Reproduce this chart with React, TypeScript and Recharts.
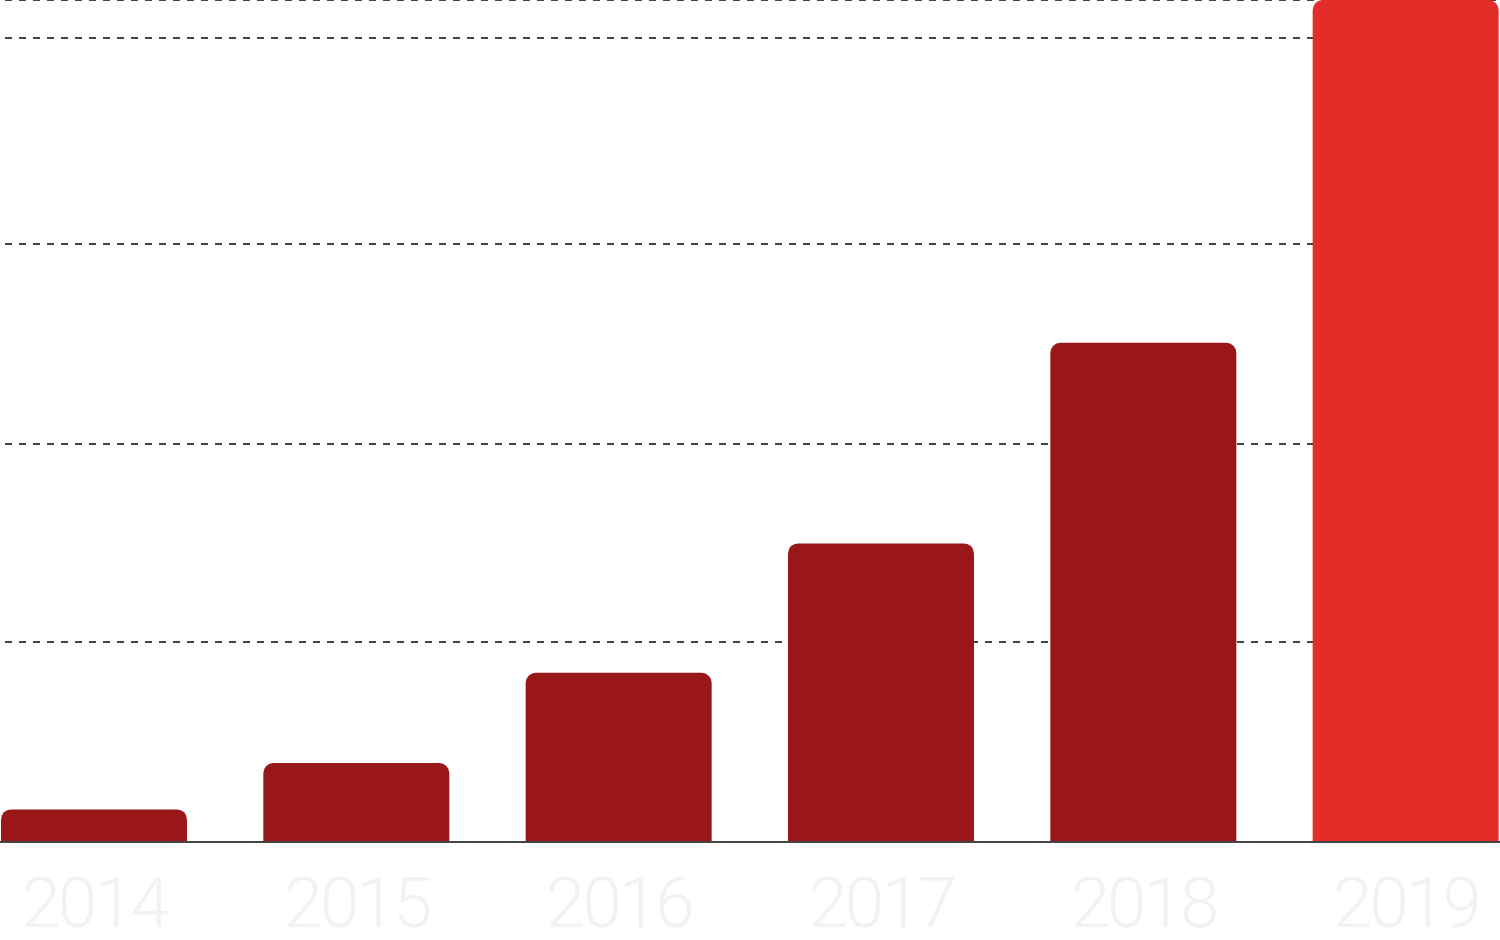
import React from "react";
import { BarChart, Bar, XAxis, YAxis, CartesianGrid, Cell } from "recharts";

const years = ["2014", "2015", "2016", "2017", "2018", "2019"];
const values = [16.3, 39.5, 84.6, 149.3, 249.6, 421];
const barColors = ["#9A1719", "#9A1719", "#9A1719", "#9A1719", "#9A1719", "#E32D28"];
const gridTicks = [0, 100, 199, 299, 402];

const data = years.map((y, i) => ({ year: y, value: values[i] }));

const YearTick = (props: any) => {
  const { x, y, payload } = props;
  return (
    <text
      x={x}
      y={y + 85}
      textAnchor="middle"
      fill="#F2F2F2"
      fontFamily="Roboto, 'Open Sans', sans-serif"
      fontWeight={300}
      fontSize={71}
      letterSpacing={-3}
    >
      {payload.value}
    </text>
  );
};

export default function App() {
  return (
    <div
      style={{
        position: "absolute",
        left: 0,
        top: 0,
        width: 1500,
        height: 940,
        overflow: "hidden",
        background: "#FFFFFF",
      }}
    >
      <div style={{ marginLeft: -37 }}>
        <BarChart
          width={1574}
          height={940}
          data={data}
          margin={{ top: 0, right: 0, bottom: 0, left: 0 }}
          barSize={186}
        >
          <CartesianGrid
            vertical={false}
            stroke="#444444"
            strokeWidth={2}
            strokeDasharray="7 7"
          />
          <YAxis hide domain={[0, 421]} ticks={gridTicks} allowDataOverflow />
          <XAxis
            dataKey="year"
            height={98}
            axisLine={{ stroke: "#444444", strokeWidth: 2 }}
            tickLine={false}
            tickSize={0}
            tickMargin={0}
            interval={0}
            tick={<YearTick />}
          />
          <Bar dataKey="value" radius={[10, 10, 0, 0]} isAnimationActive={false}>
            {data.map((d, i) => (
              <Cell key={d.year} fill={barColors[i]} />
            ))}
          </Bar>
        </BarChart>
      </div>
    </div>
  );
}
